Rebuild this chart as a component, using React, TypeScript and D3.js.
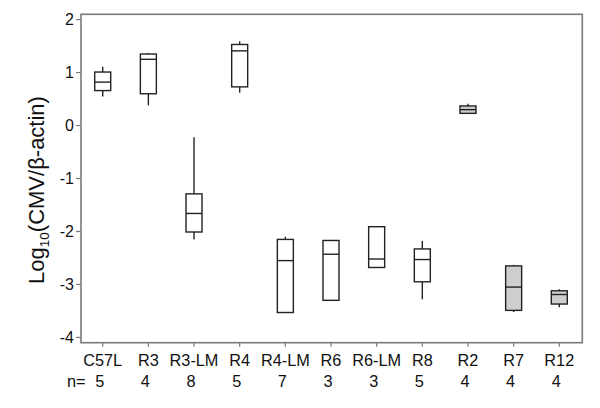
import React from "react";
import * as d3 from "d3";

const categories = ["C57L", "R3", "R3-LM", "R4", "R4-LM", "R6", "R6-LM", "R8", "R2", "R7", "R12"];
const nValues = ["5", "4", "8", "5", "7", "3", "3", "5", "4", "4", "4"];
const whiskerLow = [0.55, 0.38, -2.15, 0.62, -3.53, -3.30, -2.68, -3.28, 0.22, -3.52, -3.43];
const q1Values = [0.66, 0.60, -2.01, 0.73, -3.53, -3.30, -2.68, -2.95, 0.23, -3.49, -3.37];
const medians = [0.82, 1.25, -1.66, 1.41, -2.55, -2.43, -2.52, -2.53, 0.30, -3.05, -3.19];
const q3Values = [1.01, 1.35, -1.29, 1.53, -2.15, -2.17, -1.91, -2.33, 0.37, -2.65, -3.12];
const whiskerHigh = [1.11, 1.37, -0.22, 1.59, -2.10, -2.17, -1.91, -2.18, 0.41, -2.63, -3.09];
const shaded = [false, false, false, false, false, false, false, false, true, true, true];
const yTicks = [-4, -3, -2, -1, 0, 1, 2];

export default function App() {
  const W = 600, H = 408;
  const frameL = 81, frameR = 582.3, frameT = 14.3, frameB = 342.7;
  const x = d3.scalePoint<string>().domain(categories).range([102.7, 559.3]);
  const y = d3.scaleLinear().domain([-4.1, 2.1]).range([frameB, frameT]);
  const bw = 16;
  const font = "'Liberation Sans', Arial, Helvetica, sans-serif";
  const boxStroke = "#222";
  const frameStroke = "#7a7a7a";

  return (
    <svg width={W} height={H} style={{ position: "absolute", left: 0, top: 0, background: "#fff" }} fontFamily={font}>
      <rect x={0} y={0} width={W} height={H} fill="#fff" />
      <rect x={frameL} y={frameT} width={frameR - frameL} height={frameB - frameT} fill="none" stroke={frameStroke} strokeWidth={1.6} />
      {yTicks.map((t) => (
        <g key={"yt" + t}>
          <line x1={frameL - 5} x2={frameL} y1={y(t)} y2={y(t)} stroke={frameStroke} strokeWidth={1.2} />
          <text x={frameL - 7} y={y(t)} dy="0.36em" textAnchor="end" fontSize={16} fill="#111">{t}</text>
        </g>
      ))}
      {categories.map((c, i) => (
        <g key={"xt" + c}>
          <line x1={x(c)!} x2={x(c)!} y1={frameB} y2={frameB + 4} stroke={frameStroke} strokeWidth={1.2} />
          <text x={x(c)!} y={366} textAnchor="middle" fontSize={16.3} fill="#111">{c}</text>
          <text x={x(c)! - 3} y={387} textAnchor="middle" fontSize={16.3} fill="#111">{nValues[i]}</text>
        </g>
      ))}
      <text x={67} y={387} fontSize={16.3} fill="#111">n=</text>
      <text transform="translate(44,190) rotate(-90)" textAnchor="middle" fontSize={22} fill="#111">
        <tspan>Log</tspan>
        <tspan fontSize={13.5} dy={5}>10</tspan>
        <tspan dy={-5}>(CMV/β-actin)</tspan>
      </text>
      {categories.map((c, i) => {
        const cx = x(c)!;
        return (
          <g key={"box" + c} stroke={boxStroke} strokeWidth={1.4}>
            <line x1={cx} x2={cx} y1={y(q3Values[i])} y2={y(whiskerHigh[i])} />
            <line x1={cx} x2={cx} y1={y(q1Values[i])} y2={y(whiskerLow[i])} />
            <rect x={cx - bw / 2} y={y(q3Values[i])} width={bw} height={y(q1Values[i]) - y(q3Values[i])}
              fill={shaded[i] ? "#cfcfcf" : "#fff"} />
            <line x1={cx - bw / 2} x2={cx + bw / 2} y1={y(medians[i])} y2={y(medians[i])} />
          </g>
        );
      })}
    </svg>
  );
}
